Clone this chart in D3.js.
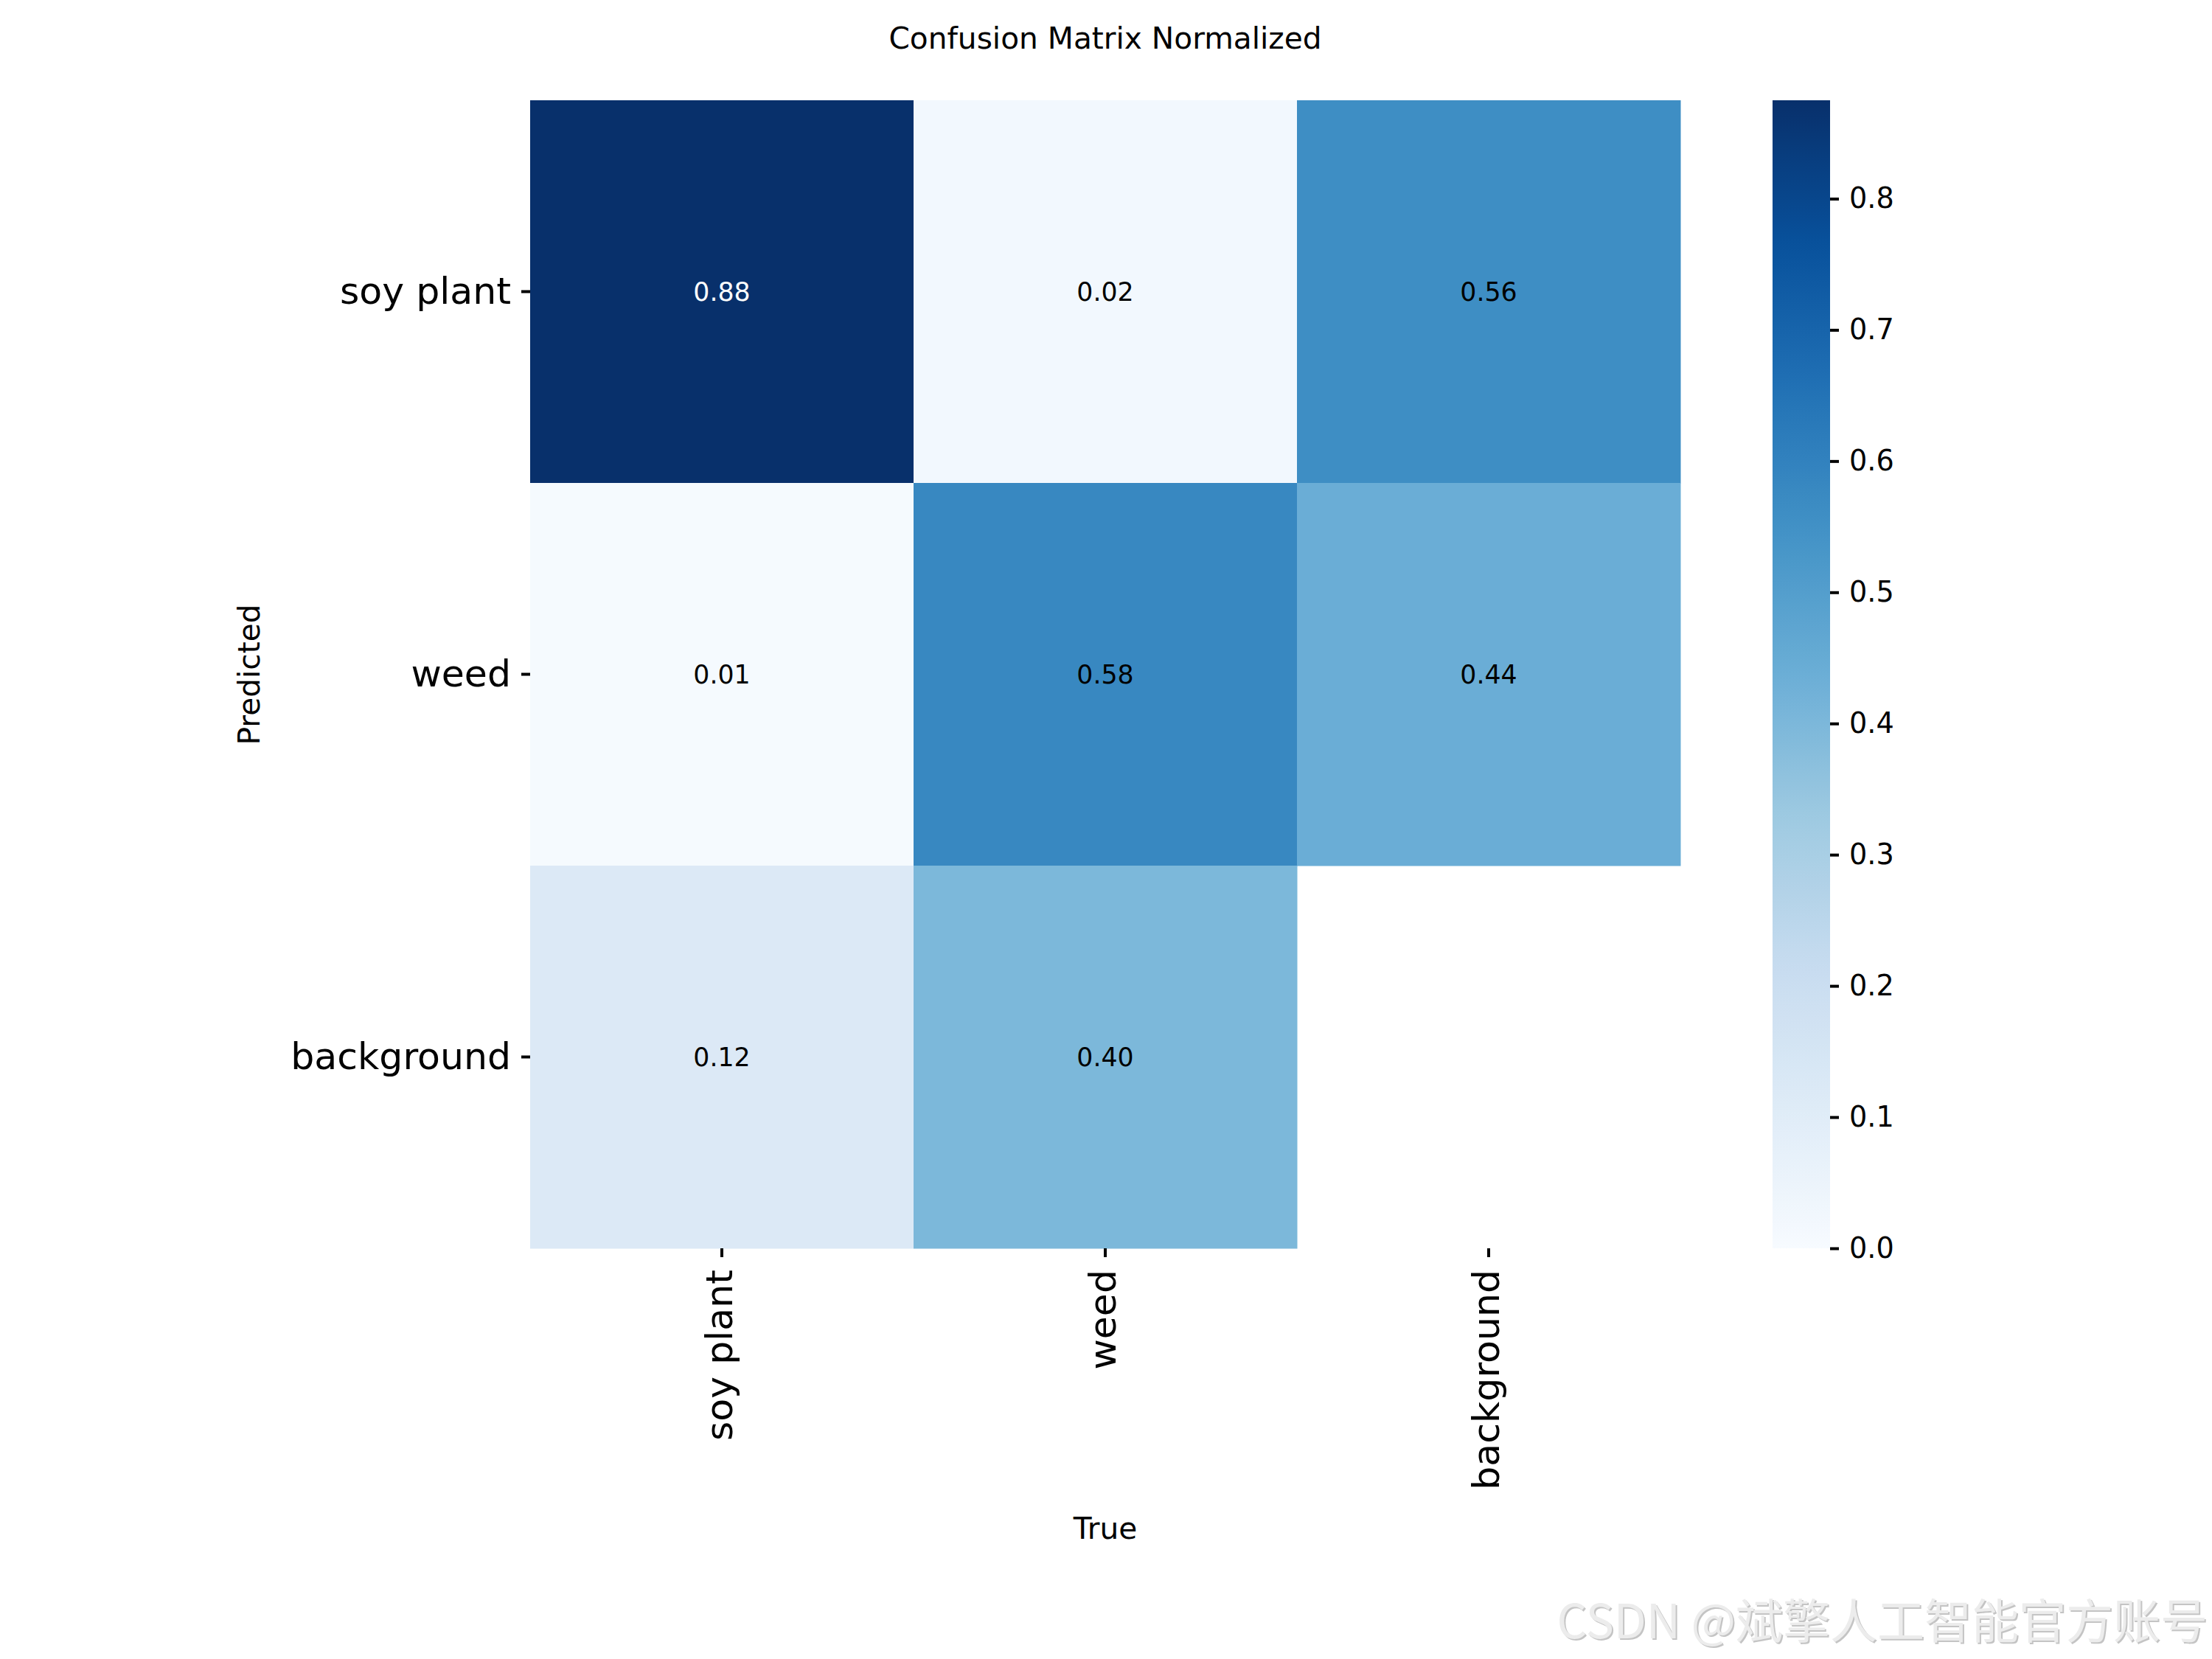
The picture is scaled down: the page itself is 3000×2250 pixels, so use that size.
<!DOCTYPE html>
<html>
<head>
  <meta charset="utf-8">
  <script src="https://cdn.jsdelivr.net/npm/d3@7"></script>
  <style>
    body { margin: 0; background: #fff; }
    text { font-family: "DejaVu Sans", sans-serif; }
  </style>
</head>
<body>
  <div id="chart"></div>
  <script>
    // labels and normalized values (rows = predicted, cols = true)
    const trueLabels = ['soy plant', 'weed', 'background'];
    const predLabels = ['soy plant', 'weed', 'background'];
    const rowSoy = [0.875, 0.02, 0.56];
    const rowWeed = [0.01, 0.58, 0.44];
    const rowBackground = [0.12, 0.40, null];
    const cbTicks = [0.0, 0.1, 0.2, 0.3, 0.4, 0.5, 0.6, 0.7, 0.8];

    const W = 3000, H = 2250;
    const px = pt => pt * 250 / 72;   // figure drawn at 250 dpi

    const matrix = [rowSoy, rowWeed, rowBackground];
    const cells = [];
    matrix.forEach((row, r) => row.forEach((v, c) => {
      cells.push({ pred: predLabels[r], tru: trueLabels[c], value: v });
    }));
    const vmax = d3.max(cells, d => d.value);

    // matplotlib "Blues" (linear over the colorbrewer stops)
    const bluesStops = ['#f7fbff', '#deebf7', '#c6dbef', '#9ecae1', '#6baed6',
                        '#4292c6', '#2171b5', '#08519c', '#08306b'];
    const blues = d3.scaleLinear()
      .domain(d3.range(bluesStops.length).map(i => i / (bluesStops.length - 1)))
      .range(bluesStops)
      .interpolate(d3.interpolateRgb);
    const color = v => blues(Math.max(0, Math.min(1, v / vmax)));

    const svg = d3.select('#chart').append('svg')
      .attr('width', W)
      .attr('height', H);

    const x = d3.scaleBand().domain(trueLabels).range([719, 2279]);
    const y = d3.scaleBand().domain(predLabels).range([136, 1693]);

    // heatmap cells
    svg.append('g').selectAll('rect')
      .data(cells.filter(d => d.value != null))
      .join('rect')
      .attr('x', d => x(d.tru))
      .attr('y', d => y(d.pred))
      .attr('width', x.bandwidth() + 0.5)
      .attr('height', y.bandwidth() + 0.5)
      .attr('fill', d => color(d.value));

    // annotations
    const fmt = d3.format('.2f');
    svg.append('g').selectAll('text')
      .data(cells.filter(d => d.value != null))
      .join('text')
      .attr('x', d => x(d.tru) + x.bandwidth() / 2)
      .attr('y', d => y(d.pred) + y.bandwidth() / 2)
      .attr('text-anchor', 'middle')
      .attr('dy', '0.36em')
      .attr('font-size', px(10))
      .attr('fill', d => {
        const c = d3.rgb(color(d.value));
        const lin = u => { u /= 255; return u <= 0.03928 ? u / 12.92 : Math.pow((u + 0.055) / 1.055, 2.4); };
        const lum = 0.2126 * lin(c.r) + 0.7152 * lin(c.g) + 0.0722 * lin(c.b);
        return lum > 0.1 ? '#000' : '#fff';
      })
      .text(d => fmt(d.value));

    const tickFont = 50.5;

    // y axis
    const yAxis = svg.append('g')
      .attr('transform', 'translate(719,0)')
      .call(d3.axisLeft(y).tickSize(12).tickSizeOuter(0).tickPadding(14));
    yAxis.select('.domain').remove();
    yAxis.selectAll('line').attr('stroke', '#000').attr('stroke-width', 4);
    yAxis.selectAll('text')
      .attr('font-size', tickFont)
      .attr('font-family', 'DejaVu Sans')
      .attr('fill', '#000');

    // x axis, rotated labels
    const xAxis = svg.append('g')
      .attr('transform', 'translate(0,1693)')
      .call(d3.axisBottom(x).tickSize(12).tickSizeOuter(0));
    xAxis.select('.domain').remove();
    xAxis.selectAll('line').attr('stroke', '#000').attr('stroke-width', 4);
    xAxis.selectAll('text')
      .attr('font-size', tickFont)
      .attr('font-family', 'DejaVu Sans')
      .attr('fill', '#000')
      .attr('text-anchor', 'end')
      .attr('y', 0)
      .attr('dy', '0.28em')
      .attr('transform', 'translate(0,29) rotate(-90)');

    // colorbar
    const cb = d3.scaleLinear().domain([0, vmax]).range([1693, 136]);
    const grad = svg.append('defs').append('linearGradient')
      .attr('id', 'cbgrad')
      .attr('x1', 0).attr('y1', 1).attr('x2', 0).attr('y2', 0);
    grad.selectAll('stop')
      .data(d3.range(0, 1.0001, 0.02))
      .join('stop')
      .attr('offset', t => t)
      .attr('stop-color', t => blues(t));
    svg.append('rect')
      .attr('x', 2404).attr('y', 136)
      .attr('width', 78).attr('height', 1693 - 136)
      .attr('fill', 'url(#cbgrad)');
    const cbAxis = svg.append('g')
      .attr('transform', 'translate(2482,0)')
      .call(d3.axisRight(cb).tickValues(cbTicks).tickFormat(d3.format('.1f'))
        .tickSize(12).tickSizeOuter(0).tickPadding(14));
    cbAxis.select('.domain').remove();
    cbAxis.selectAll('line').attr('stroke', '#000').attr('stroke-width', 4);
    cbAxis.selectAll('text')
      .attr('font-size', px(11))
      .attr('font-family', 'DejaVu Sans')
      .attr('fill', '#000');

    // titles
    svg.append('text')
      .attr('x', 1499).attr('y', 66)
      .attr('text-anchor', 'middle')
      .attr('font-size', 40.7)
      .text('Confusion Matrix Normalized');
    svg.append('text')
      .attr('x', 1499).attr('y', 2087)
      .attr('text-anchor', 'middle')
      .attr('font-size', 40.7)
      .text('True');
    svg.append('text')
      .attr('transform', 'translate(352,915) rotate(-90)')
      .attr('text-anchor', 'middle')
      .attr('font-size', 40.7)
      .text('Predicted');

    // watermark
    const wm = 'CSDN @斌擎人工智能官方账号';
    svg.append('text')
      .attr('x', 2996).attr('y', 2224)
      .attr('text-anchor', 'end')
      .attr('font-size', 64)
      .style('font-family', '"Noto Sans CJK SC", sans-serif')
      .attr('fill', '#c4c4c4')
      .text(wm);
    svg.append('text')
      .attr('x', 2994).attr('y', 2222)
      .attr('text-anchor', 'end')
      .attr('font-size', 64)
      .style('font-family', '"Noto Sans CJK SC", sans-serif')
      .attr('fill', '#ececec')
      .text(wm);
  </script>
</body>
</html>
